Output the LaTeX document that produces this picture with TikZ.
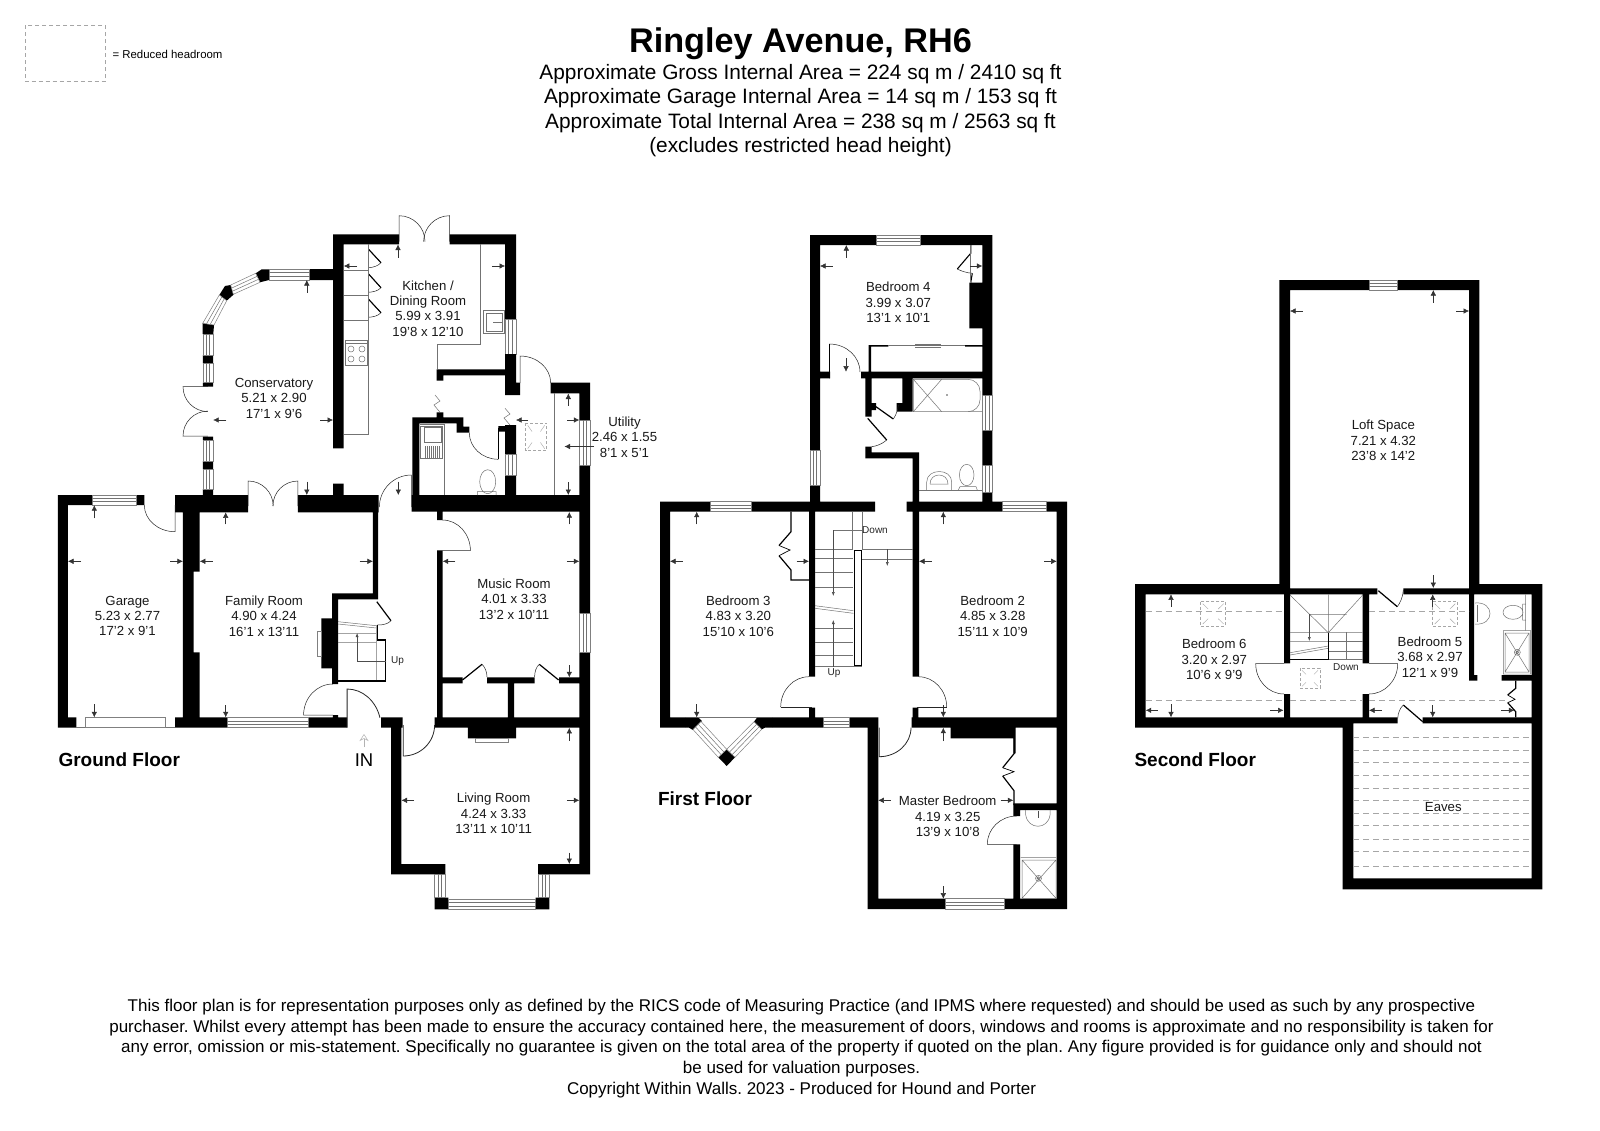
\documentclass[tikz,border=0pt]{standalone}
\usepackage{fontspec}
\setmainfont{Liberation Sans}
\frenchspacing
\usetikzlibrary{arrows.meta}
\tikzset{wall/.style={fill=black,draw=none}}
\tikzset{glass/.style={fill=white,draw=black!50,line width=.5pt}}
\tikzset{fit/.style={draw=black!55,line width=.5pt}}
\tikzset{leaf/.style={draw=black!85,line width=.5pt}}
\tikzset{bar/.style={draw=black,line width=1.5pt}}
\tikzset{dim/.style={draw=black!80,line width=.5pt,-{Latex[length=5.5pt,width=5.5pt]}}}
\tikzset{low/.style={draw=black!35,line width=.6pt,dash pattern=on 6pt off 4pt}}
\tikzset{l/.style={font=\fontsize{13.2}{15.4}\selectfont,align=center,text=black!90}}
\tikzset{m/.style={font=\fontsize{10}{10}\selectfont,text=black!85}}
\tikzset{fl/.style={font=\fontsize{19}{19}\bfseries\selectfont,anchor=west}}
\newcommand{\winh}[4]{\draw[glass] (#1,#3) rectangle (#2,#4); \draw[fit] (#1,#3*.66+#4*.34) -- (#2,#3*.66+#4*.34) (#1,#3*.34+#4*.66) -- (#2,#3*.34+#4*.66);}
\newcommand{\winv}[4]{\draw[glass] (#1,#3) rectangle (#2,#4); \draw[fit] (#1*.66+#2*.34,#3) -- (#1*.66+#2*.34,#4) (#1*.34+#2*.66,#3) -- (#1*.34+#2*.66,#4);}
\newcommand{\skylight}[4]{\draw[low,line width=.5pt,dash pattern=on 3pt off 2pt] (#1,#3) rectangle (#2,#4);
  \draw[draw=black!35,line width=.4pt] (#1+2,#3+2) -- (#1*.7+#2*.3,#3*.7+#4*.3) (#2-2,#3+2) -- (#1*.3+#2*.7,#3*.7+#4*.3) (#1+2,#4-2) -- (#1*.7+#2*.3,#3*.3+#4*.7) (#2-2,#4-2) -- (#1*.3+#2*.7,#3*.3+#4*.7);}
\begin{document}
\begin{tikzpicture}[x=1pt,y=-1pt]
\useasboundingbox (0,0) rectangle (1600,1130);
\fill[white] (0,0) rectangle (1600,1130);

% heading
\draw[low,line width=.5pt,dash pattern=on 4pt off 3pt] (25,25) rectangle (105,81.5);
\node[anchor=west,font=\fontsize{11.4}{11.4}\selectfont] (key) at (109,54) {= Reduced headroom};
\node[font=\fontsize{34.2}{34.2}\bfseries\selectfont] (title) at (800.5,44) {Ringley Avenue, RH6};
\node[font=\fontsize{20.85}{24.4}\selectfont,align=center] (areas) at (800.5,110.5) {Approximate Gross Internal Area = 224 sq m / 2410 sq ft\\Approximate Garage Internal Area = 14 sq m / 153 sq ft\\Approximate Total Internal Area = 238 sq m / 2563 sq ft\\(excludes restricted head height)};
\node[font=\fontsize{17}{20.7}\selectfont,align=center] (note) at (801.5,1048.5) {This floor plan is for representation purposes only as defined by the RICS code of Measuring Practice (and IPMS where requested) and should be used as such by any prospective\\purchaser. Whilst every attempt has been made to ensure the accuracy contained here, the measurement of doors, windows and rooms is approximate and no responsibility is taken for\\any error, omission or mis-statement. Specifically no guarantee is given on the total area of the property if quoted on the plan. Any figure provided is for guidance only and should not\\be used for valuation purposes.\\Copyright Within Walls. 2023 - Produced for Hound and Porter};

% ground floor walls
\fill[wall] (333,234.3) rectangle (343.6,448.3) (333,234.3) rectangle (399,244.3) (449.6,234.3) rectangle (516,244.3)
  (505,234.3) rectangle (516,395) (505,382.7) rectangle (520,395) (436.7,369.3) rectangle (505,375.3) (436.7,369.3) rectangle (443.3,380.7)
  (550.7,382.7) rectangle (590,393.3) (579.3,382.7) rectangle (590,613.3) (579.3,652.3) rectangle (590,874.3)
  (411.7,495) rectangle (590,511.7) (412.3,417.3) rectangle (419.3,495) (412.3,417.3) rectangle (463.3,423.3) (456.7,417.3) rectangle (463.3,426.7)
  (456.7,426.7) rectangle (469.3,432.7) (436.7,412.3) rectangle (443.3,417.3) (498.3,426) rectangle (505,431.7) (505,425) rectangle (516,495)
  (309.6,269) rectangle (333,280) (333,483.7) rectangle (343.6,495) (175,495) rectangle (248.2,512.3) (297.9,495) rectangle (378.6,512.3)
  (202.9,382.7) rectangle (213,386.7) (202.9,436.7) rectangle (213,440) (202.9,489) rectangle (213,495) (202.9,355) rectangle (213,363.3) (202.9,461) rectangle (213,469.3)
  (57.9,495) rectangle (67.9,727.7) (57.9,495) rectangle (91.8,505) (136.4,495) rectangle (144.3,505) (57.9,717.3) rectangle (76.4,727.7)
  (182.9,495) rectangle (193.6,727.7) (193.6,495) rectangle (199.6,571.7) (193.6,652.3) rectangle (199.6,727.7)
  (175,717.3) rectangle (227.1,727.7) (308.6,717.3) rectangle (347.1,727.7) (381,717.3) rectangle (402.5,727.7) (391,717.3) rectangle (401.4,874.3)
  (372.9,495) rectangle (378.2,599.3) (332.1,593.3) rectangle (378.2,599.3) (332.1,593.3) rectangle (338.2,684) (321.4,618.3) rectangle (332.1,668.3)
  (437.1,550.7) rectangle (442.5,727.7) (437.1,505) rectangle (442.5,520) (442.5,677.3) rectangle (462.5,683.3) (487.1,677.3) rectangle (534.6,683.3) (559,677.3) rectangle (579.3,683.3)
  (507.9,683.3) rectangle (514,717.3) (434.6,717.3) rectangle (590,727.7) (467.9,727.7) rectangle (516,738.3)
  (391,864) rectangle (445.4,874.3) (538.2,864) rectangle (590,874.3) (434.6,897.7) rectangle (448.4,909.3) (535.7,897.7) rectangle (549.3,909.3)
  (332.9,715) rectangle (338.2,717.3);
\fill[wall] (255.7,273.3) -- (261.7,269.3) -- (269,269.3) -- (269,280) -- (260,282.3) -- cycle;
\fill[wall] (219.3,295) -- (225,286) -- (230.7,285) -- (235,293.3) -- (226.7,300.7) -- cycle;
\fill[wall] (202.7,323.3) -- (205,320) -- (214,325) -- (213.3,334) -- (202.7,334) -- cycle;

% ground floor windows
\winh{269}{309.6}{269}{280}
\draw[glass] (255.7,273.3) -- (230.7,285) -- (233.3,294.3) -- (260,282.3) -- cycle;
\draw[fit] (257.2,276.3) -- (231.6,288.1) (258.5,279.3) -- (232.4,291.2);
\draw[glass] (219.3,295) -- (202.7,323.3) -- (214,325) -- (226.7,300.7) -- cycle;
\draw[fit] (221.8,297) -- (206.5,323.8) (224.2,298.8) -- (210.2,324.4);
\winv{202.9}{213}{334}{355}
\winv{202.9}{213}{363.3}{382.7}
\winv{202.9}{213}{440}{461}
\winv{202.9}{213}{469.3}{489}
\winv{505}{516}{319.3}{354}
\fill[wall] (505,354) rectangle (516,382.7);
\winv{505}{516}{454}{475.7}
\winv{579.3}{590}{420}{465.7}
\fill[wall] (505,475.7) rectangle (516,495);
\winh{91.8}{136.4}{495}{505}
\draw[fit] (76.4,727) -- (85.7,727) (165.7,727) -- (175,727);
\draw[glass] (85.7,717.3) rectangle (165.7,727.7);
\winh{227.1}{308.6}{717.3}{727.7}
\winv{579.3}{590}{613.3}{652.3}
\winh{448.4}{535.7}{899.3}{909.3}
\winv{434.6}{445.4}{874.3}{897.7}
\winv{538.2}{549.3}{874.3}{897.7}

% ground floor doors
\draw[leaf] (399,241.7) -- (399,215.7) arc[start angle=270,end angle=360,radius=26];
\draw[leaf] (449.6,241.7) -- (449.6,215.7) arc[start angle=270,end angle=180,radius=26];
\draw[leaf] (520,383) -- (520,356) arc[start angle=270,end angle=360,x radius=30.7,y radius=27];
\draw[leaf] (207.9,386.7) -- (183,386.7) arc[start angle=180,end angle=90,radius=24.9];
\draw[leaf] (207.9,436) -- (183,436) arc[start angle=180,end angle=270,radius=24.9];
\draw[leaf] (248.2,506) -- (248.2,481) arc[start angle=270,end angle=360,radius=25];
\draw[leaf] (297.9,506) -- (297.9,481) arc[start angle=270,end angle=180,radius=25];
\draw[leaf] (411.4,507) -- (411.4,475) arc[start angle=270,end angle=180,radius=32];
\draw[leaf] (175,505) -- (175,531.7) arc[start angle=90,end angle=180,x radius=30.7,y radius=26.7];
\draw[leaf] (332.9,715) -- (303.6,715) arc[start angle=180,end angle=270,x radius=29.3,y radius=31];
\draw[leaf,line width=.8pt] (347.1,727.7) -- (347.1,689) arc[start angle=270,end angle=345,x radius=34,y radius=38.7];
\draw[leaf,line width=.8pt] (403.2,725) -- (403.2,756) arc[start angle=90,end angle=0,x radius=31.4,y radius=31];
\draw[leaf] (437,550.7) -- (470.4,550.7) arc[start angle=0,end angle=-90,x radius=28,y radius=30.7];
\draw[leaf] (469.3,432.7) arc[start angle=180,end angle=90,x radius=29,y radius=26.6];
\draw[draw=black,line width=1.2pt] (498.3,459.3) -- (498.3,428.3) -- (505,428.3);
\draw[leaf] (368.6,249.3) -- (381,262.7) .. controls (378,266) and (373,267.5) .. (368.6,267.7);
\draw[leaf] (368.6,274) -- (381,287.7) .. controls (378,291) and (373,292) .. (368.6,292.3);
\draw[leaf] (368.6,299.3) -- (381,312.7) .. controls (378,316) and (373,317) .. (368.6,317.3);
\draw[bar,line width=1.1pt] (368.6,249.3) -- (381,262.7) (368.6,274) -- (381,287.7) (368.6,299.3) -- (381,312.7);
\draw[leaf] (391,620.7) .. controls (388,624) and (383,625) .. (377.5,625);
\draw[bar,line width=1.2pt] (376.8,601.7) -- (391,620.7);
\draw[leaf] (482,664.3) .. controls (485,667) and (487,672) .. (487,677);
\draw[bar,line width=1.2pt] (462.5,680) -- (482,664.3);
\draw[leaf] (534.6,677) .. controls (534.6,672) and (536,667) .. (539.3,664.3);
\draw[bar,line width=1.2pt] (539.3,664.3) -- (558.6,680);
\draw[fit] (435,395) -- (440,401) -- (434,405) -- (440,412.3);
\draw[fit] (505,408.3) -- (510,414) -- (504,418) -- (510,425);

% ground floor fittings
\draw[fit] (368.6,244.3) -- (368.6,434.3) -- (343.6,434.3) (343.6,270) -- (368.6,270) (343.6,295) -- (368.6,295) (343.6,320.7) -- (368.6,320.7);
\draw[fit] (480,244.3) -- (480,344) -- (437,344) -- (437,369.3);
\draw[fit] (345.4,340) rectangle (367.5,365) (345.4,343.5) -- (367.5,343.5);
\draw[fit] (351,349) circle (3) (362,349) circle (3) (351,359) circle (3) (362,359) circle (3);
\draw[fit] (483.6,310.7) rectangle (504.3,333.3) (486,313) rectangle (502,331) (493,322) -- (502,322);
\draw[fit] (420,424) -- (444,424) (444,424) -- (444,495) (420.7,426) rectangle (442.7,458.3) (424.3,427.5) rectangle (441.7,442.7);
\foreach \sx in {425,427,429,431,433,435,437,439} \draw[fit] (\sx,446) -- (\sx,458.3);
\draw[fit] (477.3,495) -- (477.3,491.7) -- (496,491.7) -- (496,495) (487.7,481.7) ellipse (8 and 12);
\draw[fit] (554.3,393.3) -- (554.3,495);
\skylight{525.7}{546.7}{423.3}{450.7}
\draw[glass,fill=none] (317.5,631.7) rectangle (321.4,656.7) (475.7,738.3) rectangle (507.9,742.3);
\draw[fit] (338.2,621.7) -- (376.4,625.7) (338.2,624) -- (376.4,628) (338.2,633.3) -- (376.4,633.3) (338.2,642.3) -- (376.4,642.3) (376.4,625) -- (376.4,680);
\draw[bar,line width=1.3pt] (377.5,625) -- (377.5,640) -- (385.7,640) -- (385.7,681) -- (338.2,681);
\draw[-{Latex[length=4pt,width=3pt]},draw=black!70,line width=.5pt] (386.4,661) -- (357.1,661) -- (357.1,633);
\node[m,anchor=west] (upg) at (387.5,661) {Up};

% ground floor arrows
\draw[dim] (398,257.7) -- (398,244.5);
\draw[dim] (357,266) -- (343.8,266);
\draw[dim] (491.8,266) -- (505,266);
\draw[dim] (306.8,292.7) -- (306.8,280);
\draw[dim] (226.4,420) -- (213.2,420);
\draw[dim] (320.4,420) -- (333,420);
\draw[dim] (306.8,481.7) -- (306.8,495);
\draw[dim] (398.3,481.7) -- (398.3,495);
\draw[dim] (568.3,405.5) -- (568.3,393.5);
\draw[dim] (568.3,482) -- (568.3,495);
\draw[dim] (567,420) -- (579.3,420);
\draw[dim] (528,420) -- (516,420);
\draw[dim] (594,446.5) -- (564.5,446.5);
\draw[dim] (569.3,524.3) -- (569.3,512);
\draw[dim] (569.3,665) -- (569.3,677.3);
\draw[dim] (455.4,561.3) -- (442.7,561.3);
\draw[dim] (566.8,561.3) -- (579.3,561.3);
\draw[dim] (225.7,524.3) -- (225.7,512.3);
\draw[dim] (225.7,705) -- (225.7,717.3);
\draw[dim] (212.5,561.3) -- (199.8,561.3);
\draw[dim] (359.6,561.3) -- (372.9,561.3);
\draw[dim] (94.3,518.3) -- (94.3,505.2);
\draw[dim] (94.3,704.3) -- (94.3,717.3);
\draw[dim] (81,561.3) -- (68,561.3);
\draw[dim] (170.4,561.3) -- (182.9,561.3);
\draw[dim] (569.3,740.7) -- (569.3,727.8);
\draw[dim] (569.3,852.7) -- (569.3,864);
\draw[dim] (414,800.3) -- (401.5,800.3);
\draw[dim] (566.8,800.3) -- (579.3,800.3);
\draw[draw=black!30,line width=.5pt,-{Stealth[open,length=7pt,width=9pt]}] (364,747) -- (364,734);

% ground floor texts
\node[l] (kitchen) at (428,308.5) {Kitchen /\\Dining Room\\5.99 x 3.91\\19'8 x 12'10};
\node[l] (conservatory) at (274,398.3) {Conservatory\\5.21 x 2.90\\17'1 x 9'6};
\node[l] (utility) at (624.5,437) {Utility\\2.46 x 1.55\\8'1 x 5'1};
\node[l] (garage) at (127.5,616) {Garage\\5.23 x 2.77\\17'2 x 9'1};
\node[l] (family) at (264,616) {Family Room\\4.90 x 4.24\\16'1 x 13'11};
\node[l] (music) at (514,599) {Music Room\\4.01 x 3.33\\13'2 x 10'11};
\node[l] (living) at (493.6,813.3) {Living Room\\4.24 x 3.33\\13'11 x 10'11};
\node[fl] (ground) at (55,760) {Ground Floor};
\node[font=\fontsize{18.5}{18.5}\selectfont] (in) at (364,760) {IN};

% first floor walls
\fill[wall] (810,235) rectangle (876.7,245) (920,235) rectangle (992.3,245) (810,235) rectangle (820,450) (810,485) rectangle (820,501.7)
  (982.3,235) rectangle (992.3,395) (982.3,430.7) rectangle (992.3,465) (982.3,492.7) rectangle (992.3,501.7)
  (969.3,282.7) rectangle (982.3,328.3) (861,371.7) rectangle (982.3,378.3) (820,371.7) rectangle (830,378.3) (868.7,345) rectangle (871,371.7)
  (870,345) rectangle (888.3,346.7) (965,345) rectangle (982.3,346.7)
  (865.3,378.3) rectangle (871.7,416.7) (871.7,403) rectangle (876,410) (902.3,378.3) rectangle (912.7,411.7) (896.7,403) rectangle (902.3,411.7)
  (865.3,446.7) rectangle (871.7,458.3) (865.3,452.3) rectangle (919,458.3) (912.7,452.3) rectangle (919,501.7)
  (660,501.7) rectangle (710.7,511.7) (751,501.7) rectangle (875,511.7) (906.7,501.7) rectangle (1002.3,511.7) (1046.7,501.7) rectangle (1067,511.7)
  (660,501.7) rectangle (670,727.7) (1056.7,501.7) rectangle (1067,909) (809,511.7) rectangle (815,676.7) (912.7,511.7) rectangle (919,676.7)
  (809,707.7) rectangle (815,717.3) (912.7,707.7) rectangle (918.3,717.3)
  (660,717.3) rectangle (685,727.7) (772,717.3) rectangle (823.3,727.7) (849,717.3) rectangle (878.3,727.7) (867.7,717.3) rectangle (878.3,909)
  (911.7,717.3) rectangle (1067,727.7) (950.7,727.7) rectangle (1015.7,738.3) (1013.3,738) rectangle (1015.7,753.3)
  (1013.3,803.3) rectangle (1056.7,810) (1013.3,803.3) rectangle (1020,816) (1013.3,844.3) rectangle (1020,909)
  (867.7,898.7) rectangle (945.7,909) (1004.3,898.7) rectangle (1067,909);
\fill[wall] (685,717.3) -- (698,717.3) -- (702,721) -- (693,730) -- (689,727.7) -- (685,727.7) -- cycle;
\fill[wall] (772,717.3) -- (757.3,717.3) -- (754,721.7) -- (761.7,729.3) -- (765,727.7) -- (772,727.7) -- cycle;
\fill[wall] (726.7,749.3) -- (718.3,757.3) -- (726.7,766) -- (735,757.3) -- cycle;

% first floor windows
\winh{876.7}{920}{235}{245}
\winv{810}{820}{450}{485}
\winv{982.3}{992.3}{395}{430.7}
\winv{982.3}{992.3}{465}{492.7}
\winh{710.7}{751}{501.7}{511.7}
\winh{1002.3}{1046.7}{501.7}{511.7}
\winh{823.3}{849}{717.3}{727.7}
\winh{945.7}{1004.3}{898.7}{909}
\draw[glass] (701,721.5) -- (726.7,749.3) -- (718.3,757.3) -- (693,729.5) -- cycle;
\draw[fit] (698.3,724.3) -- (723.9,752) (695.6,727) -- (721.1,754.6);
\draw[glass] (754,721.7) -- (726.7,749.3) -- (735,757.3) -- (761.7,729.3) -- cycle;
\draw[fit] (756.6,724.3) -- (729.5,752) (759.1,726.7) -- (732.2,754.6);
\draw[fit] (698,717.3) -- (757.3,717.3);

% first floor doors
\draw[leaf] (829.3,378.3) -- (829.3,344) arc[start angle=270,end angle=360,x radius=30.7,y radius=28];
\draw[bar,line width=1.2pt] (829.3,378.3) -- (829.3,344);
\draw[leaf] (811.7,707.7) -- (780.7,707.7);
\draw[leaf] (780.7,707) arc[start angle=180,end angle=270,x radius=28.3,y radius=30.3];
\draw[leaf] (916.7,707.7) -- (946.7,707.7);
\draw[leaf] (946.7,707) arc[start angle=0,end angle=-90,x radius=28.4,y radius=30.3];
\draw[leaf,line width=.8pt] (879.3,727.7) -- (879.3,756.7) arc[start angle=90,end angle=0,x radius=31.7,y radius=29];
\draw[leaf] (1016.7,844.3) -- (987.3,844.3) arc[start angle=180,end angle=270,x radius=29.4,y radius=28.3];
\draw[bar,line width=1.1pt] (970.7,245) -- (970.7,253.3) -- (957.3,269) (972.3,273.3) -- (970.7,282.7);
\draw[leaf] (957.3,269) .. controls (961,271) and (967,273) .. (972.3,273.3);
\draw[fit] (970,245) -- (970,282.7);
\draw[fit] (888.3,345.5) -- (965,345.5) (915,344) -- (941,344) (915,347) -- (941,347);
\draw[bar,line width=1.2pt] (876,406.7) -- (893.3,419);
\draw[leaf] (893.3,419) .. controls (896,415) and (898,410) .. (898.3,405);
\draw[bar,line width=1.2pt] (867.7,418.3) -- (886.7,440);
\draw[leaf] (886.7,440) .. controls (882,444) and (877,446) .. (871.7,446.7);
\draw[bar,line width=1.2pt] (791,511.7) -- (791,531.7) -- (779,545.5) (779,555.7) -- (791,570) -- (791,580) -- (809,580);
\draw[draw=black,line width=.7pt] (779,545.5) -- (790,550) -- (779,555.7);
\draw[bar,line width=1.2pt] (1014.3,738) -- (1014.3,753.3) -- (1002.7,767.7) (1002.7,776) -- (1014,790.7) -- (1014,805);
\draw[draw=black,line width=.7pt] (1002.7,767.7) -- (1014,771.7) -- (1002.7,776);

% first floor fittings
\draw[fit] (913.3,379.3) -- (968,379.3) arc[start angle=270,end angle=360,radius=12] -- (980,399.7) arc[start angle=0,end angle=90,radius=12] -- (913.3,411.7) -- cycle;
\draw[fit] (913.3,379.3) -- (941.7,411.7) (941.7,379.3) -- (913.3,411.7) (968,411.7) -- (982.3,411.7);
\fill[black!70] (947,395) circle (.8);
\draw[fit] (919,490.7) -- (982.3,490.7);
\draw[fit] (926.7,490.7) -- (926.7,482) .. controls (926.7,468) and (951.7,468) .. (951.7,482) -- (951.7,490.7);
\draw[fit] (930,484) .. controls (930,472) and (948,472) .. (948,484) -- (930,484);
\draw[fit] (966.7,475) ellipse (7.3 and 10.7) (958.3,490) -- (960,486.7) -- (976,486.7) -- (977.3,490);
\draw[fit] (1025.7,810) -- (1025.7,815) .. controls (1028,830) and (1048,830) .. (1050,815) -- (1050,810);
\fill[black!70] (1037.5,811) rectangle (1038.7,818);
\draw[fit] (1020.7,857.7) -- (1056,857.7) (1022,860) rectangle (1056,898.3) (1022,860) -- (1056,898.3) (1056,860) -- (1022,898.3) (1038.5,878.3) circle (3) (1038.5,878.3) circle (1.5);

% first floor stairs
\draw[fit] (852.7,511.7) -- (852.7,550) (862.3,511.7) -- (862.3,550) (833.3,530) -- (862.3,530);
\draw[fit] (815,549.3) -- (853.3,549.3) (815,558) -- (853.3,558) (815,572) -- (853.3,572) (815,587.7) -- (853.3,587.7);
\draw[fit] (815,605.7) -- (853.3,610.7) (815,608.3) -- (853.3,613.3);
\draw[fit] (815,628) -- (853.3,628) (815,642) -- (853.3,642) (815,655) -- (853.3,655) (815,666.7) -- (861.7,666.7);
\draw[fit] (861.7,549.3) -- (912.7,549.3) (861.7,559) -- (912.7,559);
\draw[draw=black,line width=1.2pt,fill=white] (854.2,550.5) rectangle (861.2,665.5);
\draw[-{Latex[length=4pt,width=3pt]},draw=black!70,line width=.5pt] (833.3,530) -- (833.3,596);
\draw[-{Latex[length=4pt,width=3pt]},draw=black!70,line width=.5pt] (833.3,666.7) -- (833.3,620);
\draw[-{Latex[length=4pt,width=3pt]},draw=black!70,line width=.5pt] (887.3,549.3) -- (887.3,566);
\node[m] (downa) at (875,530) {Down};
\node[m] (upf) at (834,673) {Up};

% first floor arrows
\draw[dim] (846.3,257.7) -- (846.3,245);
\draw[dim] (832.7,266) -- (820,266);
\draw[dim] (970,266) -- (982.3,266);
\draw[dim] (846,358.3) -- (846,371.7);
\draw[dim] (696.7,524.3) -- (696.7,511.7);
\draw[dim] (682.7,561.3) -- (670,561.3);
\draw[dim] (796.7,561.3) -- (809,561.3);
\draw[dim] (696.7,704.3) -- (696.7,717.3);
\draw[dim] (943.3,524.3) -- (943.3,511.7);
\draw[dim] (931.7,561.3) -- (919,561.3);
\draw[dim] (1044,561.3) -- (1056.7,561.3);
\draw[dim] (943.3,705) -- (943.3,717.3);
\draw[dim] (943.3,741) -- (943.3,727.7);
\draw[dim] (890.7,800.3) -- (878.3,800.3);
\draw[dim] (1000.7,800.3) -- (1013.3,800.3);
\draw[dim] (943.3,886) -- (943.3,898.7);

% first floor texts
\node[l] (bedfour) at (898.3,302.3) {Bedroom 4\\3.99 x 3.07\\13'1 x 10'1};
\node[l] (bedthree) at (738.3,616) {Bedroom 3\\4.83 x 3.20\\15'10 x 10'6};
\node[l] (bedtwo) at (992.7,616) {Bedroom 2\\4.85 x 3.28\\15'11 x 10'9};
\node[l] (master) at (947.7,816.3) {Master Bedroom\\4.19 x 3.25\\13'9 x 10'8};
\node[fl] (first) at (654.5,799) {First Floor};

% second floor walls
\fill[wall] (1279.3,280) rectangle (1369.3,290) (1397.3,280) rectangle (1479.3,290) (1279.3,280) rectangle (1290,594.3) (1469,280) rectangle (1479.3,594.3)
  (1135,584) rectangle (1290,594.3) (1290,588.3) rectangle (1377.3,594.3) (1403.3,588.3) rectangle (1469,594.3) (1469,584) rectangle (1542.3,594.3)
  (1135,584) rectangle (1145.7,727.7) (1135,717.3) rectangle (1342.7,727.7) (1342.7,717.3) rectangle (1397.7,723.3) (1422.7,717.3) rectangle (1542.3,723.3)
  (1531.7,584) rectangle (1542.3,889.3) (1342.7,717.3) rectangle (1353.3,889.3) (1342.7,878.3) rectangle (1542.3,889.3)
  (1284,594.3) rectangle (1290,663.3) (1284,694) rectangle (1290,717.3) (1362.7,594.3) rectangle (1369,663.3) (1362.7,694) rectangle (1369,717.3)
  (1469,594.3) rectangle (1474,680.7) (1469,675) rectangle (1477.3,680.7) (1501.7,675) rectangle (1531.7,680.7);
\winh{1369.3}{1397.3}{280}{290}

% second floor doors
\draw[leaf] (1284,663.7) -- (1255.7,663.7) arc[start angle=180,end angle=90,x radius=28.3,y radius=30.3];
\draw[leaf] (1369,663.7) -- (1397.7,663.7) arc[start angle=0,end angle=90,x radius=28.7,y radius=30.3];
\draw[bar,line width=1.2pt] (1378.3,590.7) -- (1397.3,606.7);
\draw[leaf] (1397.3,606.7) .. controls (1400,603) and (1403,597) .. (1403.3,590);
\draw[bar,line width=1.2pt] (1403.3,705) -- (1422.7,721.7);
\draw[leaf] (1403.3,705) .. controls (1400,708) and (1398,713) .. (1397.7,718.3);
\draw[bar,line width=1.2pt] (1515.7,680.7) -- (1515.7,688.3) -- (1507.7,695) (1507.7,702.7) -- (1515.7,711.7) -- (1515.7,717.3);
\draw[draw=black,line width=.7pt] (1507.7,695) -- (1515,699.3) -- (1507.7,702.7);

% second floor reduced headroom
\draw[low] (1145.7,611) -- (1284,611) (1145.7,700) -- (1284,700) (1290,700) -- (1362.7,700) (1369,611) -- (1469,611) (1369,700) -- (1508,700);
\draw[low] (1353.3,737.3) -- (1531.7,737.3) (1353.3,750) -- (1531.7,750) (1353.3,762.7) -- (1531.7,762.7) (1353.3,775) -- (1531.7,775) (1353.3,788.3) -- (1531.7,788.3) (1353.3,800) -- (1531.7,800) (1353.3,813.3) -- (1531.7,813.3) (1353.3,825.7) -- (1531.7,825.7) (1353.3,839.3) -- (1531.7,839.3) (1353.3,851) -- (1531.7,851) (1353.3,866) -- (1531.7,866);
\skylight{1200.7}{1225.7}{601.7}{626}
\skylight{1432.7}{1457.3}{601.7}{626}
\skylight{1300}{1320}{668.3}{688.3}

% second floor stairs and fittings
\draw[fit] (1290,595) -- (1328.3,632.7) -- (1362.7,595) (1328.3,594.3) -- (1328.3,632.7) (1309,614.3) -- (1346.7,614.3);
\draw[fit] (1290,632.3) -- (1362.7,632.3) (1290,641.7) -- (1328.3,641.7) (1290,652.7) -- (1328.3,646) (1290,655) -- (1328.3,648.3);
\draw[fit] (1346.7,632.3) -- (1346.7,659.3) (1328.3,641.7) -- (1362.7,641.7) (1328.3,651.7) -- (1362.7,651.7) (1328.3,659.3) -- (1362.7,659.3);
\draw[bar,line width=1.4pt] (1290,659.3) -- (1328.3,659.3) -- (1328.3,632.7);
\draw[-{Latex[length=4pt,width=3pt]},draw=black!70,line width=.5pt] (1309.3,614.3) -- (1309.3,641);
\node[m] (downb) at (1346,667.3) {Down};
\draw[fit] (1503.3,630.7) rectangle (1530.7,674) (1505,633) rectangle (1529,672) (1505,633) -- (1529,672) (1529,633) -- (1505,672) (1517.3,652.3) circle (3) (1517.3,652.3) circle (1.5);
\draw[fit] (1513,612.3) ellipse (10 and 7) (1522.7,604) rectangle (1525.7,620) (1525.7,594.3) -- (1525.7,630.7);
\draw[fit] (1475,603) .. controls (1495,601) and (1495,626) .. (1475,624);
\draw[fit] (1477,605) -- (1477,622);

% second floor arrows
\draw[dim] (1433.3,302.7) -- (1433.3,290);
\draw[dim] (1302.7,311) -- (1290,311);
\draw[dim] (1456,311) -- (1469,311);
\draw[dim] (1433.3,575) -- (1433.3,588);
\draw[dim] (1171,606.7) -- (1171,594.3);
\draw[dim] (1171,704) -- (1171,717.3);
\draw[dim] (1157.7,710.3) -- (1145.7,710.3);
\draw[dim] (1270,710.3) -- (1283.5,710.3);
\draw[dim] (1432.7,606.7) -- (1432.7,594.3);
\draw[dim] (1432.7,705) -- (1432.7,717.3);
\draw[dim] (1381.7,710.3) -- (1369,710.3);
\draw[dim] (1501,710.3) -- (1514.3,710.3);

% second floor texts
\node[l] (loft) at (1383.3,440.3) {Loft Space\\7.21 x 4.32\\23'8 x 14'2};
\node[l] (bedsix) at (1214.3,659.3) {Bedroom 6\\3.20 x 2.97\\10'6 x 9'9};
\node[l] (bedfive) at (1430,657) {Bedroom 5\\3.68 x 2.97\\12'1 x 9'9};
\node[l] (eaves) at (1443.3,806.7) {Eaves};
\node[fl] (second) at (1131,759.3) {Second Floor};
\end{tikzpicture}
\end{document}
